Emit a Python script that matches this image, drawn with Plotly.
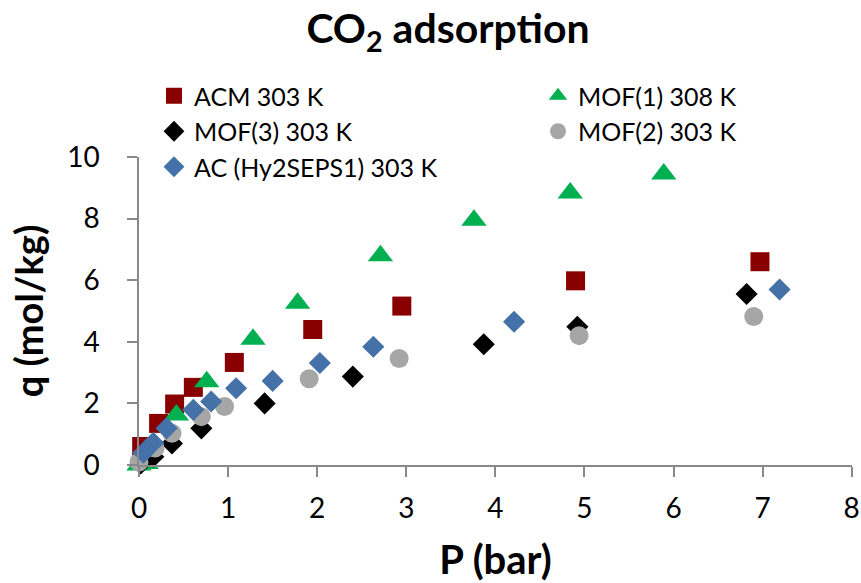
import plotly.graph_objects as go

# ---- data ----
acm_P = [0.03, 0.22, 0.40, 0.61, 1.07, 1.95, 2.95, 4.90, 6.97]
acm_q = [0.60, 1.35, 1.98, 2.52, 3.33, 4.40, 5.16, 5.98, 6.60]

mof1_P = [0.00, 0.08, 0.42, 0.76, 1.28, 1.78, 2.71, 3.76, 4.84, 5.89]
mof1_q = [0.00, 0.05, 1.62, 2.70, 4.08, 5.25, 6.79, 7.95, 8.83, 9.45]

mof3_P = [0.02, 0.16, 0.37, 0.70, 1.41, 2.40, 3.87, 4.92, 6.82]
mof3_q = [0.05, 0.27, 0.70, 1.19, 2.00, 2.87, 3.92, 4.49, 5.55]

mof2_P = [0.00, 0.18, 0.37, 0.70, 0.96, 1.91, 2.92, 4.94, 6.90]
mof2_q = [0.10, 0.55, 1.03, 1.57, 1.90, 2.80, 3.46, 4.20, 4.82]

ac_P = [0.05, 0.16, 0.31, 0.61, 0.81, 1.09, 1.50, 2.03, 2.63, 4.21, 7.19]
ac_q = [0.40, 0.72, 1.19, 1.79, 2.06, 2.49, 2.73, 3.31, 3.84, 4.65, 5.70]

series_names = ["ACM 303 K", "MOF(1) 308 K", "MOF(3) 303 K", "MOF(2) 303 K", "AC (Hy2SEPS1) 303 K"]
x_ticks = [0, 1, 2, 3, 4, 5, 6, 7, 8]
y_ticks = [0, 2, 4, 6, 8, 10]

FONT = "Lato"

fig = go.Figure()
styles = [
    (acm_P, acm_q, "square", 19, "#880000", "legend"),
    (mof1_P, mof1_q, "triangle-up", 22, "#00B050", "legend2"),
    (mof3_P, mof3_q, "diamond", 17, "#000000", "legend"),
    (mof2_P, mof2_q, "circle", 19, "#A6A6A6", "legend2"),
    (ac_P, ac_q, "diamond", 17, "#4472A8", "legend"),
]
for name, (xs, ys, sym, sz, col, leg) in zip(series_names, styles):
    fig.add_trace(go.Scatter(
        x=xs, y=ys, mode="markers", name=name, cliponaxis=False, legend=leg,
        marker=dict(symbol=sym, size=sz, color=col, line=dict(width=0)),
    ))

axis_common = dict(
    showline=True, linecolor="#898989", linewidth=1.5,
    ticks="outside", ticklen=10, tickcolor="#898989", tickwidth=1.5,
    showgrid=False, zeroline=False,
    tickfont=dict(family=FONT, size=28, color="#000000"),
)

legend_common = dict(
    orientation="v", xanchor="left", yanchor="top",
    font=dict(family=FONT, size=25, color="#000000"),
    bgcolor="rgba(0,0,0,0)", tracegroupgap=0,
)

PLOT_W = 861 - 139 - 9

fig.update_layout(
    width=861, height=583,
    paper_bgcolor="white", plot_bgcolor="white",
    margin=dict(l=139, r=9, t=157, b=118, autoexpand=False),
    title=dict(text="<b>CO<sub>2</sub> adsorption</b>", x=448 / 861, xanchor="center",
               xref="container", y=1 - 29 / 583, yanchor="middle", yref="container",
               font=dict(family=FONT, size=41, color="#000000")),
    xaxis=dict(range=[0, 8.003], tickmode="array", tickvals=x_ticks,
               ticktext=[str(v) for v in x_ticks],
               ticklabelstandoff=8, ticklabeloverflow="allow",
               title=dict(text="<b>P (bar)</b>", standoff=25,
                          font=dict(family=FONT, size=40, color="#000000")),
               **axis_common),
    yaxis=dict(range=[0, 10], tickmode="array", tickvals=y_ticks,
               ticktext=[str(v) for v in y_ticks],
               ticklabelstandoff=22,
               title=dict(text="<b>q (mol/kg)</b>", standoff=12,
                          font=dict(family=FONT, size=38, color="#000000")),
               **axis_common),
    legend=dict(x=(154 - 139) / PLOT_W, y=(465 - 73) / 308, **legend_common),
    legend2=dict(x=(538 - 139) / PLOT_W, y=(465 - 73) / 308, **legend_common),
    showlegend=True,
)

fig.write_html("out.html")
